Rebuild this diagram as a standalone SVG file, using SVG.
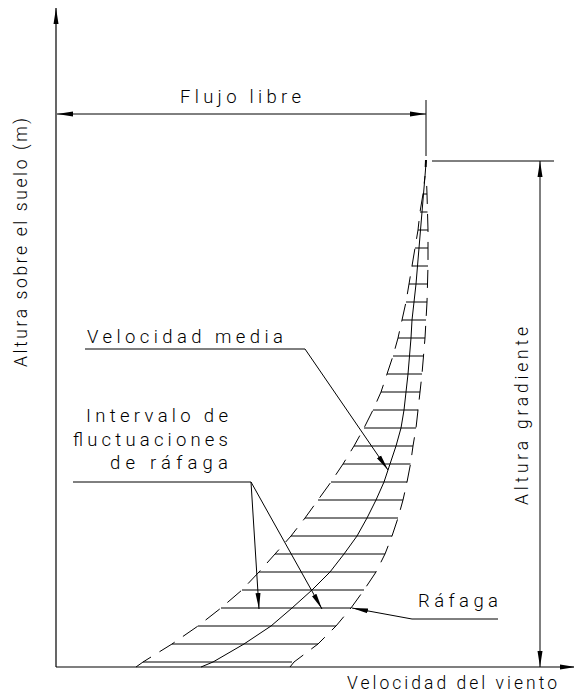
<svg xmlns="http://www.w3.org/2000/svg" width="574" height="698" viewBox="0 0 574 698">
<style>
.ln{fill:none;stroke:#000;stroke-width:1}
.ax{fill:none;stroke:#000;stroke-width:1.2}
.dash{fill:none;stroke:#000;stroke-width:1;stroke-dasharray:18 10}
.hatch{stroke:#000;stroke-width:1}
.t{font-family:Roboto,"Liberation Sans",Arial,sans-serif;font-weight:300;font-size:18.5px;fill:#000}
.ts{font-family:Roboto,"Liberation Sans",Arial,sans-serif;font-weight:300;font-size:17.5px;fill:#000}
</style>
<defs>
<marker id="arr" markerUnits="userSpaceOnUse" markerWidth="18" markerHeight="8" refX="16" refY="4" orient="auto-start-reverse" viewBox="0 0 18 8">
<path d="M0,1.5 L16,4 L0,6.5 z" fill="#000"/>
</marker>
</defs>
<rect width="574" height="698" fill="#fff"/>

<g id="y-axis">
<line class="ax" x1="56" y1="667" x2="56" y2="8" marker-end="url(#arr)"/>
<text class="ts" transform="translate(27,367) rotate(-90)" textLength="249" lengthAdjust="spacing">Altura sobre el suelo (m)</text>
</g>

<g id="x-axis">
<line class="ax" x1="56" y1="667" x2="576" y2="667" marker-end="url(#arr)"/>
<text class="ts" x="347" y="689" textLength="210" lengthAdjust="spacing">Velocidad del viento</text>
</g>

<g id="flujo-libre">
<line class="ln" x1="426" y1="100" x2="426" y2="156"/>
<line class="ln" x1="57" y1="114" x2="426" y2="114" marker-start="url(#arr)" marker-end="url(#arr)"/>
<text class="t" x="180" y="103" textLength="121" lengthAdjust="spacing">Flujo libre</text>
</g>

<g id="altura-gradiente">
<line class="ln" x1="432" y1="161" x2="554" y2="161"/>
<line class="ln" x1="540" y1="161" x2="540" y2="667" marker-start="url(#arr)" marker-end="url(#arr)"/>
<text class="ts" transform="translate(528,505) rotate(-90)" textLength="178" lengthAdjust="spacing">Altura gradiente</text>
</g>

<g id="profile">
<line x1="426" y1="160" x2="425.7" y2="167" stroke="#000" stroke-width="2"/>
<path class="ln" d="M201,667 L213,662 L244,644 L271,626 L292,608 L312,590 L330,572 L344,554 L357,536 L367,518 L376,500 L384,482 L390,464 L396,446 L401,428 L404,410 L406,392 L408,374 L409.5,356 L411,338 L412,320 L414,302 L416,284 L417.5,266 L419,248 L420.5,230 L422,212 L423.5,194 L425,176 L425.7,167"/>
<path class="dash" d="M136,667 L143,662 L172,644 L198,626 L221,608 L242,590 L259,572 L275,554 L291,536 L305,518 L318,500 L331,482 L343,464 L354,446 L364,428 L373,410 L381,392 L387,374 L393,356 L398,338 L402,320 L406,302 L409,284 L412,266 L415,248 L418,230 L420,212 L423,194 L425,176"/>
<path class="dash" d="M290,667 L294,662 L318,644 L336,626 L351,608 L364,590 L376,572 L385,554 L392,536 L398,518 L403,500 L407,482 L410.5,464 L413,446 L416,428 L418,410 L420,392 L422,374 L423.5,356 L425,338 L426,320 L427,302 L427.5,284 L428,266 L428,248 L428,230 L427.5,212 L427,194 L426.5,180"/>
<g class="hatch">
<line x1="143" y1="662" x2="292" y2="662"/>
<line x1="172" y1="644" x2="318" y2="644"/>
<line x1="198" y1="626" x2="336" y2="626"/>
<line x1="221" y1="608" x2="351" y2="608"/>
<line x1="242" y1="590" x2="364" y2="590"/>
<line x1="259" y1="572" x2="376" y2="572"/>
<line x1="275" y1="554" x2="385" y2="554"/>
<line x1="291" y1="536" x2="392" y2="536"/>
<line x1="305" y1="518" x2="398" y2="518"/>
<line x1="318" y1="500" x2="403" y2="500"/>
<line x1="331" y1="482" x2="407" y2="482"/>
<line x1="343" y1="464" x2="410.5" y2="464"/>
<line x1="354" y1="446" x2="413" y2="446"/>
<line x1="364" y1="428" x2="416" y2="428"/>
<line x1="373" y1="410" x2="418" y2="410"/>
<line x1="381" y1="392" x2="420" y2="392"/>
<line x1="387" y1="374" x2="422" y2="374"/>
<line x1="393" y1="356" x2="423.5" y2="356"/>
<line x1="398" y1="338" x2="425" y2="338"/>
<line x1="402" y1="320" x2="426" y2="320"/>
<line x1="406" y1="302" x2="427" y2="302"/>
<line x1="409" y1="284" x2="427.5" y2="284"/>
<line x1="412" y1="266" x2="428" y2="266"/>
<line x1="415" y1="248" x2="428" y2="248"/>
<line x1="418" y1="230" x2="428" y2="230"/>
<line x1="420" y1="212" x2="427.5" y2="212"/>
<line x1="423" y1="194" x2="427" y2="194"/>
</g>
</g>

<g id="label-velocidad-media">
<text class="t" x="87" y="343" textLength="196" lengthAdjust="spacing">Velocidad media</text>
</g>

<g id="label-intervalo">
<text class="t" x="86" y="422" textLength="142" lengthAdjust="spacing">Intervalo de</text>
<text class="t" x="73" y="446" textLength="155" lengthAdjust="spacing">fluctuaciones</text>
<text class="t" x="110" y="469" textLength="118" lengthAdjust="spacing">de ráfaga</text>
</g>

<g id="label-rafaga">
<text class="t" x="418" y="607" textLength="80" lengthAdjust="spacing">Ráfaga</text>
</g>

<g id="connectors">
<polyline class="ln" points="85,349 305,349 388,470" marker-end="url(#arr)"/>
<line class="ln" x1="73" y1="482" x2="251" y2="482"/>
<line class="ln" x1="251" y1="482" x2="259" y2="609" marker-end="url(#arr)"/>
<line class="ln" x1="251" y1="482" x2="322" y2="609" marker-end="url(#arr)"/>
<polyline class="ln" points="498,619 412,619 352,608" marker-end="url(#arr)"/>
</g>
</svg>
